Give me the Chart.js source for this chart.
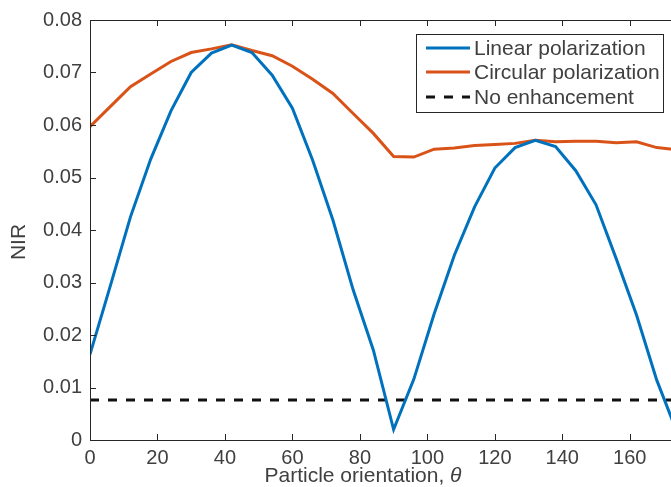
<!DOCTYPE html>
<html>
<head>
<meta charset="utf-8">
<script src="https://cdn.jsdelivr.net/npm/chart.js@4"></script>
<style>
  html, body { margin: 0; padding: 0; background: #fff; }
  #wrap { width: 671px; height: 487px; overflow: hidden; position: relative; }
  canvas { display: block; }
</style>
</head>
<body>
<div id="wrap"><canvas id="nirChart" width="681" height="487"></canvas></div>
<script>
// Particle orientation (degrees)
const theta = [0, 6, 12, 18, 24, 30, 36, 42, 48, 54, 60, 66, 72, 78, 84,
               90, 96, 102, 108, 114, 120, 126, 132, 138, 144, 150, 156, 162, 168, 174];

// NIR values
const linearPol = [0.0163, 0.0293, 0.0425, 0.0535, 0.0627, 0.0700, 0.0737, 0.0752, 0.0738, 0.0695,
                   0.0632, 0.0533, 0.0419, 0.0286, 0.0171, 0.0020, 0.0116, 0.0240, 0.0352, 0.0444,
                   0.0518, 0.0557, 0.0571, 0.0559, 0.0513, 0.0448, 0.0345, 0.0238, 0.0114, 0.0015];
const circularPol = [0.0597, 0.0635, 0.0673, 0.0697, 0.0721, 0.0738, 0.0745, 0.0753, 0.0742, 0.0732,
                     0.0712, 0.0687, 0.0660, 0.0622, 0.0584, 0.0540, 0.0539, 0.0554, 0.0556, 0.0561,
                     0.0563, 0.0565, 0.0571, 0.0568, 0.0569, 0.0569, 0.0566, 0.0568, 0.0557, 0.0553];
const noEnhancement = 0.0076;

const seriesLabels = ['Linear polarization', 'Circular polarization', 'No enhancement'];
const xTitle = 'Particle orientation, ';
const yTitle = 'NIR';

const FONT = '"Liberation Sans", Arial, Helvetica, sans-serif';
const AXIS_COLOR = '#262626';
const TEXT_COLOR = '#404040';

function toPoints(ys) {
    return theta.map((t, i) => ({ x: t, y: ys[i] }));
}

// Box around the axes with inward ticks (MATLAB look), axis titles and legend
const framePlugin = {
    id: 'frame',
    afterDraw(chart) {
        const ctx = chart.ctx;
        const a = chart.chartArea;
        const xs = chart.scales.x, ys = chart.scales.y;
        const tl = 6;
        ctx.save();
        ctx.strokeStyle = AXIS_COLOR;
        ctx.lineWidth = 1;
        ctx.strokeRect(a.left + 0.5, a.top + 0.5, a.right - a.left, a.bottom - a.top);
        ctx.beginPath();
        xs.ticks.forEach(t => {
            const px = Math.round(xs.getPixelForValue(t.value)) + 0.5;
            ctx.moveTo(px, a.bottom); ctx.lineTo(px, a.bottom - tl);
            ctx.moveTo(px, a.top); ctx.lineTo(px, a.top + tl);
        });
        ys.ticks.forEach(t => {
            const py = Math.round(ys.getPixelForValue(t.value)) + 0.5;
            ctx.moveTo(a.left, py); ctx.lineTo(a.left + tl, py);
            ctx.moveTo(a.right, py); ctx.lineTo(a.right - tl, py);
        });
        ctx.stroke();

        // axis titles
        ctx.fillStyle = TEXT_COLOR;
        ctx.font = '21px ' + FONT;
        ctx.textBaseline = 'alphabetic';
        const w1 = ctx.measureText(xTitle).width;
        ctx.font = 'italic 21px ' + FONT;
        const w2 = ctx.measureText('θ').width;
        const x0 = 363 - (w1 + w2) / 2;
        ctx.font = '21px ' + FONT;
        ctx.textAlign = 'left';
        ctx.fillText(xTitle, x0, 482);
        ctx.font = 'italic 21px ' + FONT;
        ctx.fillText('θ', x0 + w1, 482);

        ctx.save();
        ctx.translate(25, 242);
        ctx.rotate(-Math.PI / 2);
        ctx.font = '21px ' + FONT;
        ctx.textAlign = 'center';
        ctx.fillText(yTitle, 0, 0);
        ctx.restore();

        // legend
        const bx = 416.5, by = 34.5, bw = 247, bh = 78;
        ctx.fillStyle = '#fff';
        ctx.fillRect(bx, by, bw, bh);
        ctx.strokeStyle = '#262626';
        ctx.lineWidth = 1;
        ctx.strokeRect(bx, by, bw, bh);
        const rows = [48, 72, 97];
        chart.data.datasets.forEach((ds, i) => {
            ctx.beginPath();
            ctx.strokeStyle = ds.borderColor;
            ctx.lineWidth = ds.borderWidth;
            ctx.setLineDash(ds.borderDash || []);
            ctx.moveTo(426, rows[i]);
            ctx.lineTo(470, rows[i]);
            ctx.stroke();
            ctx.setLineDash([]);
            ctx.fillStyle = TEXT_COLOR;
            ctx.font = '21px ' + FONT;
            ctx.textAlign = 'left';
            ctx.textBaseline = 'middle';
            ctx.fillText(ds.label, 474, rows[i] + 1);
        });
        ctx.restore();
    }
};

const ctx = document.getElementById('nirChart').getContext('2d');
new Chart(ctx, {
    type: 'line',
    data: {
        datasets: [
            { label: seriesLabels[0], data: toPoints(linearPol), borderColor: '#0072BD', borderWidth: 3,
              pointRadius: 0, tension: 0, fill: false },
            { label: seriesLabels[1], data: toPoints(circularPol), borderColor: '#D95319', borderWidth: 3,
              pointRadius: 0, tension: 0, fill: false },
            { label: seriesLabels[2], data: theta.map(t => ({ x: t, y: noEnhancement })), borderColor: '#111111',
              borderWidth: 3, borderDash: [9, 9], pointRadius: 0, tension: 0, fill: false }
        ]
    },
    options: {
        responsive: false,
        animation: false,
        devicePixelRatio: 1,
        layout: { padding: { left: 0, top: 20, right: 4, bottom: 0 } },
        plugins: { legend: { display: false }, tooltip: { enabled: false } },
        scales: {
            x: {
                type: 'linear',
                min: 0, max: 174,
                grid: { display: false, drawTicks: false },
                border: { display: false },
                ticks: { stepSize: 20, includeBounds: false, padding: 6, color: TEXT_COLOR,
                         font: { family: FONT, size: 20 }, maxRotation: 0 },
                afterFit(scale) { scale.height = 47; }
            },
            y: {
                min: 0, max: 0.08,
                grid: { display: false, drawTicks: false },
                border: { display: false },
                ticks: { stepSize: 0.01, padding: 8, color: TEXT_COLOR,
                         font: { family: FONT, size: 20 },
                         callback: v => v === 0 ? '0' : v.toFixed(2) },
                afterFit(scale) { scale.width = 90; }
            }
        }
    },
    plugins: [framePlugin]
});
</script>
</body>
</html>
